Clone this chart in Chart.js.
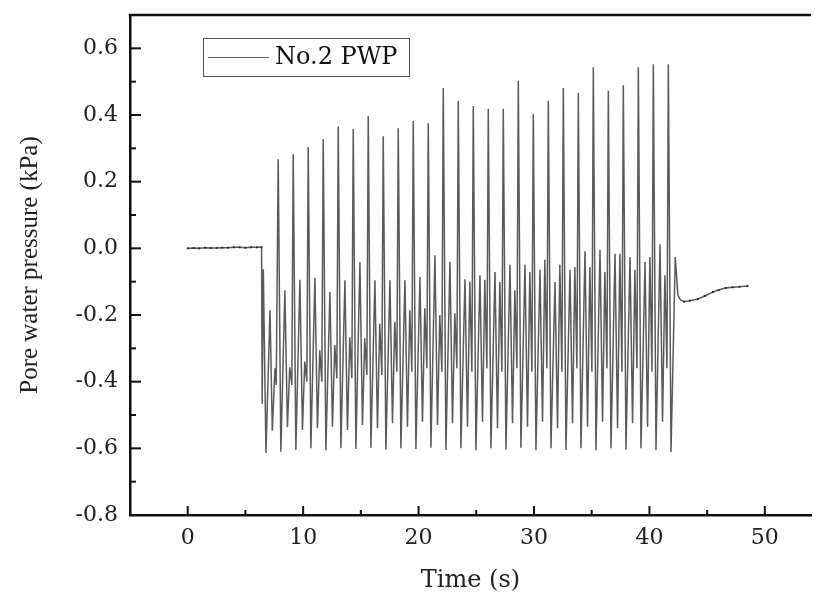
<!DOCTYPE html>
<html>
<head>
<meta charset="utf-8">
<script src="https://cdn.jsdelivr.net/npm/chart.js@4.4.1/dist/chart.umd.min.js"></script>
<style>
  html, body { margin: 0; padding: 0; background: #fff; }
</style>
</head>
<body>
<canvas id="chart" width="815" height="597"></canvas>
<script>
const SERIES_LABEL = "No.2 PWP"
const X_TICKS = [0, 10, 20, 30, 40, 50]
const X_MINOR = [5, 15, 25, 35, 45]
const Y_TICKS = [-0.8, -0.6, -0.4, -0.2, 0.0, 0.2, 0.4, 0.6]
const Y_MINOR = [-0.7, -0.5, -0.3, -0.1, 0.1, 0.3, 0.5]

// before loading: flat at ~0 kPa
const baseTime = [0, 0.5, 1.0, 1.5, 2.0, 2.5, 3.0, 3.5, 4.0, 4.5, 5.0, 5.5, 6.0, 6.4]
const baseValue = [0.000, 0.001, 0.000, 0.002, 0.001, 0.001, 0.002, 0.002, 0.003, 0.003, 0.002, 0.003, 0.003, 0.003]

// cyclic loading: peak, trough, mid peak, 2nd trough, shoulder, dip per cycle
const cycleTime = [
  6.45, 6.55, 6.78, 7.13, 7.33, 7.56, 7.67,
  7.84, 8.07, 8.42, 8.64, 8.84, 9.02,
  9.14, 9.37, 9.72, 9.94, 10.14, 10.32,
  10.44, 10.67, 11.02, 11.24, 11.44, 11.62,
  11.74, 11.97, 12.32, 12.54, 12.74, 12.92,
  13.04, 13.27, 13.62, 13.84, 14.04, 14.22,
  14.34, 14.57, 14.92, 15.14, 15.34, 15.52,
  15.64, 15.87, 16.22, 16.44, 16.64, 16.82,
  16.94, 17.17, 17.52, 17.74, 17.94, 18.12,
  18.24, 18.47, 18.82, 19.04, 19.24, 19.42,
  19.54, 19.77, 20.12, 20.34, 20.54, 20.72,
  20.84, 21.07, 21.42, 21.64, 21.84, 22.02,
  22.14, 22.37, 22.72, 22.94, 23.14, 23.32,
  23.44, 23.67, 24.02, 24.24, 24.44, 24.62,
  24.74, 24.97, 25.32, 25.54, 25.74, 25.92,
  26.04, 26.27, 26.62, 26.84, 27.04, 27.22,
  27.34, 27.57, 27.92, 28.14, 28.34, 28.52,
  28.64, 28.87, 29.22, 29.44, 29.64, 29.82,
  29.94, 30.17, 30.52, 30.74, 30.94, 31.12,
  31.24, 31.47, 31.82, 32.04, 32.24, 32.42,
  32.54, 32.77, 33.12, 33.34, 33.54, 33.72,
  33.84, 34.07, 34.42, 34.64, 34.84, 35.02,
  35.14, 35.37, 35.72, 35.94, 36.14, 36.32,
  36.44, 36.67, 37.02, 37.24, 37.44, 37.62,
  37.74, 37.97, 38.32, 38.54, 38.74, 38.92,
  39.04, 39.27, 39.62, 39.84, 40.04, 40.22,
  40.34, 40.57, 40.92, 41.14, 41.34, 41.52,
  41.64, 41.87, 42.24, 42.47,
]
const cycleValue = [
  -0.466, -0.063, -0.614, -0.186, -0.547, -0.360, -0.410,
  0.267, -0.610, -0.126, -0.536, -0.357, -0.410,
  0.282, -0.605, -0.094, -0.545, -0.340, -0.400,
  0.304, -0.600, -0.088, -0.540, -0.306, -0.400,
  0.328, -0.606, -0.131, -0.535, -0.290, -0.390,
  0.366, -0.600, -0.096, -0.545, -0.267, -0.390,
  0.358, -0.602, -0.041, -0.530, -0.270, -0.380,
  0.397, -0.598, -0.096, -0.540, -0.226, -0.380,
  0.336, -0.604, -0.096, -0.525, -0.220, -0.370,
  0.360, -0.600, -0.096, -0.535, -0.186, -0.370,
  0.382, -0.602, -0.086, -0.520, -0.180, -0.360,
  0.375, -0.598, -0.021, -0.530, -0.200, -0.370,
  0.481, -0.605, -0.040, -0.525, -0.195, -0.360,
  0.442, -0.600, -0.093, -0.535, -0.100, -0.370,
  0.427, -0.606, -0.081, -0.520, -0.094, -0.360,
  0.419, -0.600, -0.071, -0.540, -0.101, -0.370,
  0.419, -0.604, -0.049, -0.525, -0.126, -0.360,
  0.503, -0.598, -0.049, -0.535, -0.071, -0.370,
  0.404, -0.606, -0.064, -0.520, -0.034, -0.360,
  0.443, -0.600, -0.101, -0.540, -0.049, -0.370,
  0.481, -0.605, -0.064, -0.525, -0.056, -0.360,
  0.466, -0.600, -0.009, -0.535, -0.056, -0.370,
  0.543, -0.606, -0.004, -0.520, -0.071, -0.360,
  0.473, -0.600, -0.016, -0.540, -0.016, -0.370,
  0.489, -0.604, -0.026, -0.525, -0.064, -0.360,
  0.543, -0.600, -0.041, -0.535, -0.026, -0.370,
  0.552, -0.606, 0.012, -0.520, -0.081, -0.360,
  0.552, -0.612, -0.026, -0.140,
]

// after loading: slow recovery
const tailTime = [42.7, 43.0, 43.5, 44.2, 44.8, 45.5, 46.0, 46.6, 47.2, 47.8, 48.5]
const tailValue = [-0.155, -0.160, -0.157, -0.152, -0.143, -0.131, -0.125, -0.119, -0.117, -0.115, -0.113]

const allTime = [...baseTime, ...cycleTime, ...tailTime]
const allValue = [...baseValue, ...cycleValue, ...tailValue]

const tickFont = { family: "'DejaVu Serif', serif", size: 22 }

// inward ticks, top frame line and the boxed legend
const frame = {
  id: "frame",
  afterDraw(chart) {
    const { ctx, chartArea: area, scales: { x, y } } = chart
    ctx.save()
    ctx.strokeStyle = "#111"
    ctx.lineWidth = 2.5
    ctx.beginPath()
    ctx.moveTo(area.left - 1.25, area.top)
    ctx.lineTo(area.right, area.top)
    ctx.stroke()

    ctx.lineWidth = 2
    const seg = (x0, y0, x1, y1) => {
      ctx.beginPath()
      ctx.moveTo(x0, y0)
      ctx.lineTo(x1, y1)
      ctx.stroke()
    }
    X_TICKS.forEach(v => { const p = x.getPixelForValue(v); seg(p, area.bottom, p, area.bottom - 9) })
    X_MINOR.forEach(v => { const p = x.getPixelForValue(v); seg(p, area.bottom, p, area.bottom - 5) })
    Y_TICKS.forEach(v => { const p = y.getPixelForValue(v); seg(area.left, p, area.left + 11, p) })
    Y_MINOR.forEach(v => { const p = y.getPixelForValue(v); seg(area.left, p, area.left + 6, p) })

    // legend
    ctx.lineWidth = 1
    ctx.strokeStyle = "#555"
    ctx.strokeRect(203.5, 38.5, 206, 38)
    ctx.strokeStyle = "#666"
    ctx.lineWidth = 1.2
    seg(208, 57.5, 269, 57.5)
    ctx.fillStyle = "#111"
    ctx.font = "24px 'DejaVu Serif', serif"
    ctx.textBaseline = "middle"
    ctx.fillText(SERIES_LABEL, 275, 58)
    ctx.restore()
  },
}

new Chart(document.getElementById("chart"), {
  type: "line",
  data: {
    datasets: [
      {
        label: SERIES_LABEL,
        data: allTime.map((t, i) => ({ x: t, y: allValue[i] })),
        borderColor: "rgba(50,50,50,0.8)",
        borderWidth: 1.5,
        tension: 0,
        pointStyle: "rect",
        pointRadius: c => (c.raw && (c.raw.x < 6.42 || c.raw.x > 42.9) ? 1.3 : 0),
        pointBackgroundColor: "#222",
        pointBorderWidth: 0,
      },
    ],
  },
  options: {
    responsive: false,
    animation: false,
    devicePixelRatio: 1,
    layout: { padding: { top: 15, right: 0, left: 0, bottom: 0 } },
    plugins: { legend: { display: false }, tooltip: { enabled: false } },
    scales: {
      x: {
        type: "linear",
        min: -5,
        max: 54,
        afterFit: s => {
          s.height = 82
          s.paddingLeft = 0
          s.paddingRight = 0
        },
        afterBuildTicks: s => { s.ticks = X_TICKS.map(v => ({ value: v })) },
        ticks: { font: tickFont, color: "#222", padding: 10, maxRotation: 0, autoSkip: false },
        grid: { display: true, drawOnChartArea: false, drawTicks: false },
        border: { display: true, color: "#111", width: 2.5 },
        title: {
          display: true,
          text: "Time (s)",
          color: "#222",
          font: { family: "'DejaVu Serif', serif", size: 24 },
          padding: { top: 0, bottom: 2 },
        },
      },
      y: {
        min: -0.8,
        max: 0.7,
        afterFit: s => {
          s.width = 130
          s.paddingTop = 0
          s.paddingBottom = 0
        },
        afterBuildTicks: s => { s.ticks = Y_TICKS.map(v => ({ value: v })) },
        ticks: { font: tickFont, color: "#222", padding: 12, callback: v => v.toFixed(1) },
        grid: { display: true, drawOnChartArea: false, drawTicks: false },
        border: { display: true, color: "#111", width: 2.5 },
        title: {
          display: true,
          text: "Pore water pressure (kPa)",
          color: "#222",
          font: { family: "'Liberation Serif', serif", size: 25 },
          padding: { top: 15, bottom: 0 },
        },
      },
    },
  },
  plugins: [frame],
})
</script>
</body>
</html>
